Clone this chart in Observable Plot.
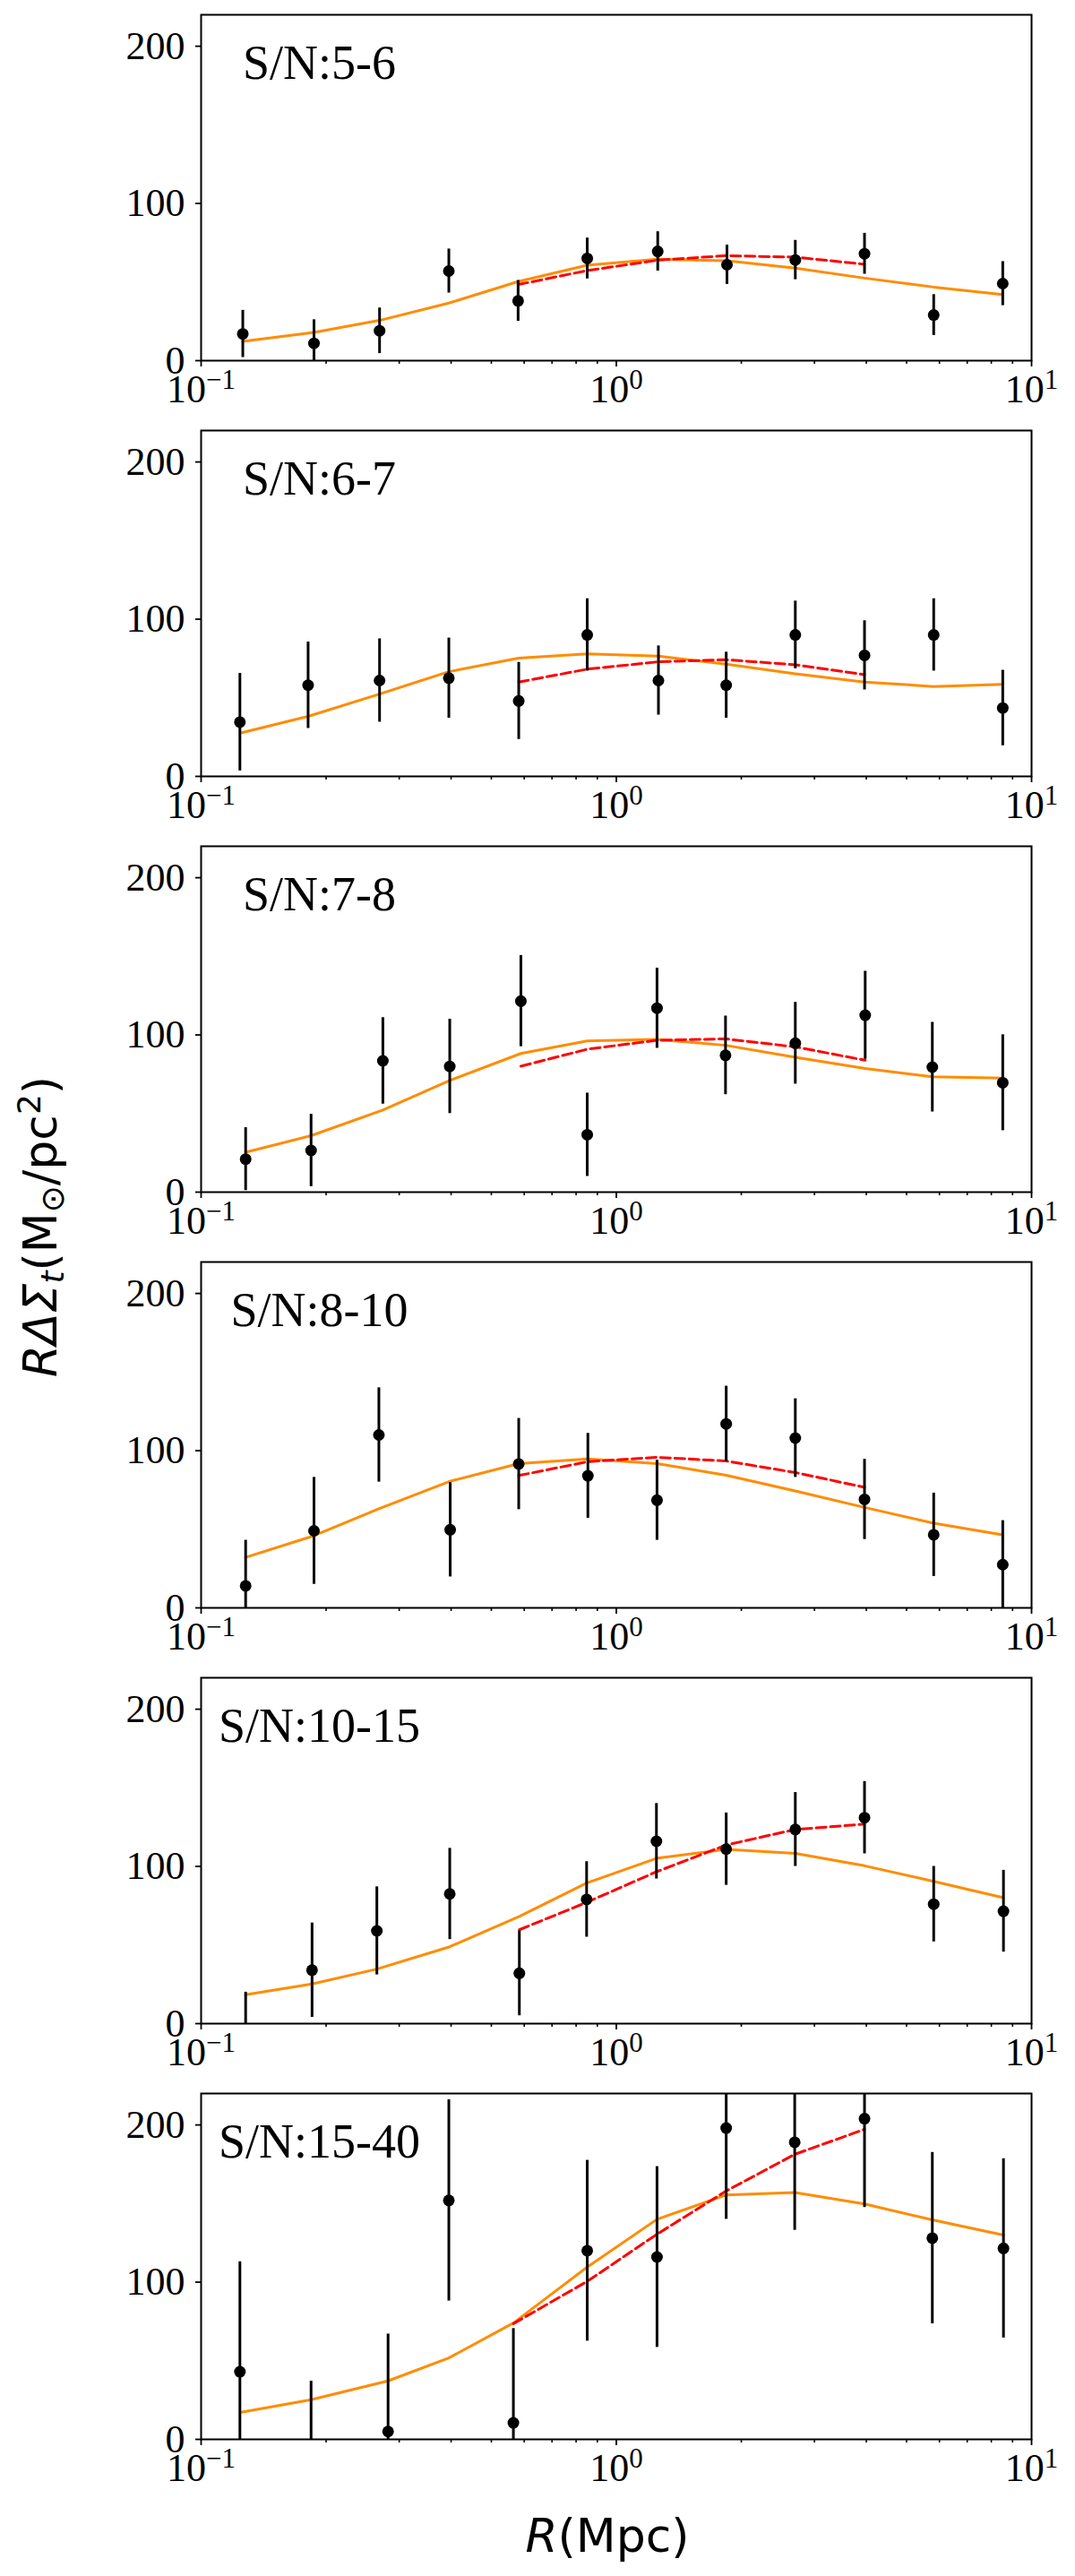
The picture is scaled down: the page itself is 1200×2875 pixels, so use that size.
<!DOCTYPE html>
<html>
<head>
<meta charset="utf-8">
<script src="https://cdn.jsdelivr.net/npm/d3@7"></script>
<script src="https://cdn.jsdelivr.net/npm/@observablehq/plot@0.6"></script>
<style>
  html, body { margin: 0; padding: 0; background: white; }
  #root { position: relative; width: 1200px; height: 2875px; background: white; }
  .panel { position: absolute; left: 0; }
  #overlay { position: absolute; left: 0; top: 0; pointer-events: none; }
</style>
</head>
<body>
<div id="root"></div>
<script>
// ---- data ----
const labels = ["S/N:5-6", "S/N:6-7", "S/N:7-8", "S/N:8-10", "S/N:10-15", "S/N:15-40"];

const r1 = [0.126, 0.187, 0.269, 0.395, 0.580, 0.851, 1.258, 1.847, 2.698, 3.960, 5.812, 8.524];
const y1 = [17, 11, 19, 57, 38, 65, 69.5, 61, 64, 68, 29, 49];
const e1 = [15, 15, 14.5, 14, 13, 13, 12.5, 12.5, 12.5, 13, 13, 14];
const m1 = [12.3, 18, 25.6, 36.6, 50.3, 60.7, 64.5, 63.5, 58.8, 52.5, 46.8, 42.1];
const f1 = [48.4, 57.3, 63.9, 66.8, 65.8, 61.3];

const r2 = [0.124, 0.181, 0.269, 0.395, 0.582, 0.851, 1.263, 1.839, 2.698, 3.960, 5.812, 8.524];
const y2 = [34.5, 58, 61, 62.5, 48, 90, 61, 58, 90, 77, 90, 43.5];
const e2 = [31, 27.5, 26.5, 25.5, 24.5, 23, 22, 21, 21.5, 22, 23, 24];
const m2 = [27.5, 38.2, 52.4, 66.6, 75.2, 78, 76.5, 71.4, 65.3, 60, 57.2, 58.5];
const f2 = [60, 68.2, 72.9, 74.2, 71, 64.7];

const r3 = [0.128, 0.184, 0.274, 0.397, 0.589, 0.851, 1.253, 1.832, 2.698, 3.975, 5.768, 8.524];
const y3 = [21, 26.5, 83.5, 80, 121.5, 36.5, 117, 87, 94.7, 112.5, 79.5, 69.6];
const e3 = [20, 23, 27.5, 30, 29, 26.5, 25.5, 25, 26, 28, 28.5, 30.5];
const m3 = [25.4, 35.9, 52.2, 71, 88.2, 96.2, 97.2, 93.4, 85.8, 78.7, 73.4, 72.5];
const f3 = [80.1, 90.9, 96.6, 97.5, 92.4, 83.9];

const r4 = [0.128, 0.187, 0.268, 0.398, 0.582, 0.854, 1.253, 1.839, 2.698, 3.960, 5.812, 8.524];
const y4 = [14, 49, 110, 49.7, 91.5, 84, 68.5, 117, 108, 69, 46.5, 27.5];
const e4 = [29, 34, 30, 30, 29, 27, 25.5, 24, 25, 25.5, 26.5, 28];
const m4 = [32.1, 45.9, 63, 80.6, 91.8, 94.7, 91.8, 84.4, 74.4, 63.9, 53.9, 46.5];
const f4 = [84.2, 93, 95.8, 93.4, 86.1, 76.7];

const r5 = [0.128, 0.185, 0.265, 0.397, 0.584, 0.848, 1.249, 1.839, 2.698, 3.960, 5.812, 8.558];
const y5 = [-6, 34, 59, 82.5, 32, 79, 116, 111, 123.5, 131, 76, 71.5];
const e5 = [26, 30, 28, 29, 27, 24, 24, 23, 23.5, 23, 24, 26];
const m5 = [18.4, 25.2, 34.7, 48.9, 68.2, 89.4, 105.1, 110.8, 108.3, 100.4, 90.5, 80.1];
const f5 = [59.7, 77.1, 96.6, 113.6, 123.5, 126.9];

const r6 = [0.124, 0.184, 0.282, 0.395, 0.565, 0.851, 1.253, 1.839, 2.689, 3.960, 5.768, 8.558];
const y6 = [43, -15, 5, 152, 10.5, 120, 116, 198, 189, 204, 128, 121.5];
const e6 = [70, 52, 62, 64, 60, 57.5, 57.5, 58, 56, 56.5, 54.5, 57];
const m6 = [17.1, 25.2, 37.2, 51.8, 74, 109.6, 140, 155.5, 157, 149.8, 139.6, 129.9];
const f6 = [73.6, 100.5, 130.5, 158, 181.3, 197.2];

const yTicks = [0, 100, 200];
const xMajor = [0.1, 1, 10];
const xMajorLabels = ["10^\u22121", "10^0", "10^1"];
const xMinor = [0.2, 0.3, 0.4, 0.5, 0.6, 0.7, 0.8, 0.9, 2, 3, 4, 5, 6, 7, 8, 9];

const panels = [
  {label: labels[0], r: r1, y: y1, e: e1, m: m1, f: f1},
  {label: labels[1], r: r2, y: y2, e: e2, m: m2, f: f2},
  {label: labels[2], r: r3, y: y3, e: e3, m: m3, f: f3},
  {label: labels[3], r: r4, y: y4, e: e4, m: m4, f: f4},
  {label: labels[4], r: r5, y: y5, e: e5, m: m5, f: f5},
  {label: labels[5], r: r6, y: y6, e: e6, m: m6, f: f6}
];

const SERIF = "Liberation Serif, Times New Roman, serif";
const root = document.getElementById("root");

panels.forEach((p, i) => {
  const pts = p.r.map((r, j) => ({r, v: p.y[j], lo: p.y[j] - p.e[j], hi: p.y[j] + p.e[j], m: p.m[j]}));
  const red = p.f.map((v, j) => ({r: p.r[j + 4], v}));
  const svg = Plot.plot({
    width: 1200,
    height: 464,
    marginLeft: 224,
    marginRight: 49,
    marginTop: 16,
    marginBottom: 62,
    style: {background: "white", color: "black", overflow: "visible"},
    x: {type: "log", domain: [0.1, 10]},
    y: {domain: [0, 220]},
    marks: [
      Plot.axisX({ticks: xMinor, tickSize: 4, strokeWidth: 1.6, tickFormat: () => "", label: null}),
      Plot.axisX({ticks: xMajor, tickSize: 7, tickPadding: 8, strokeWidth: 1.8,
        tickFormat: d => xMajorLabels[xMajor.indexOf(d)], fontSize: 44, fontFamily: SERIF, label: null}),
      Plot.axisY({ticks: yTicks, tickSize: 6, tickPadding: 12, strokeWidth: 1.8,
        fontSize: 44, fontFamily: SERIF, label: null}),
      Plot.line(pts, {x: "r", y: "m", stroke: "#ff8c00", strokeWidth: 3, clip: true}),
      Plot.line(red, {x: "r", y: "v", stroke: "#ff0000", strokeWidth: 3, strokeDasharray: "11,5", clip: true}),
      Plot.ruleX(pts, {x: "r", y1: "lo", y2: "hi", stroke: "black", strokeWidth: 3, clip: true}),
      Plot.dot(pts, {x: "r", y: "v", r: 6.5, fill: "black", stroke: "none", clip: true}),
      Plot.frame({stroke: "black", strokeWidth: 2}),
      Plot.text([p.label], {frameAnchor: "top-left", dx: 132, dy: 33, textAnchor: "middle",
        lineAnchor: "top", fontSize: 54, fontFamily: SERIF, fill: "black"})
    ]
  });
  // superscript formatting of the log tick labels
  svg.querySelectorAll("text").forEach(t => {
    const s = t.textContent;
    if (s.startsWith("10^")) {
      const exp = s.slice(3);
      while (t.firstChild) t.removeChild(t.firstChild);
      const ns = "http://www.w3.org/2000/svg";
      const a = document.createElementNS(ns, "tspan");
      a.textContent = "10";
      const b = document.createElementNS(ns, "tspan");
      b.textContent = exp;
      b.setAttribute("font-size", "31");
      b.setAttribute("dy", "-15");
      t.appendChild(a);
      t.appendChild(b);
    }
  });
  const div = document.createElement("div");
  div.className = "panel";
  div.style.top = (464 * i) + "px";
  div.appendChild(svg);
  root.appendChild(div);
});

// shared axis labels
const ns = "http://www.w3.org/2000/svg";
const ov = document.createElementNS(ns, "svg");
ov.setAttribute("id", "overlay");
ov.setAttribute("width", "1200");
ov.setAttribute("height", "2875");
ov.innerHTML = `
  <text transform="translate(63,1369) rotate(-90)" text-anchor="middle" font-family="DejaVu Sans" font-size="52" fill="black"><tspan font-style="italic">RΔΣ</tspan><tspan font-style="italic" font-size="36" dy="8">t</tspan><tspan dy="-8">(M</tspan><tspan font-size="36" dy="8">⊙</tspan><tspan dy="-8">/pc</tspan><tspan font-size="36" dy="-18">2</tspan><tspan dy="18">)</tspan></text>
  <text x="678" y="2848" text-anchor="middle" font-family="DejaVu Sans" font-size="52" fill="black"><tspan font-style="italic">R</tspan>(Mpc)</text>
`;
root.appendChild(ov);
</script>
</body>
</html>
